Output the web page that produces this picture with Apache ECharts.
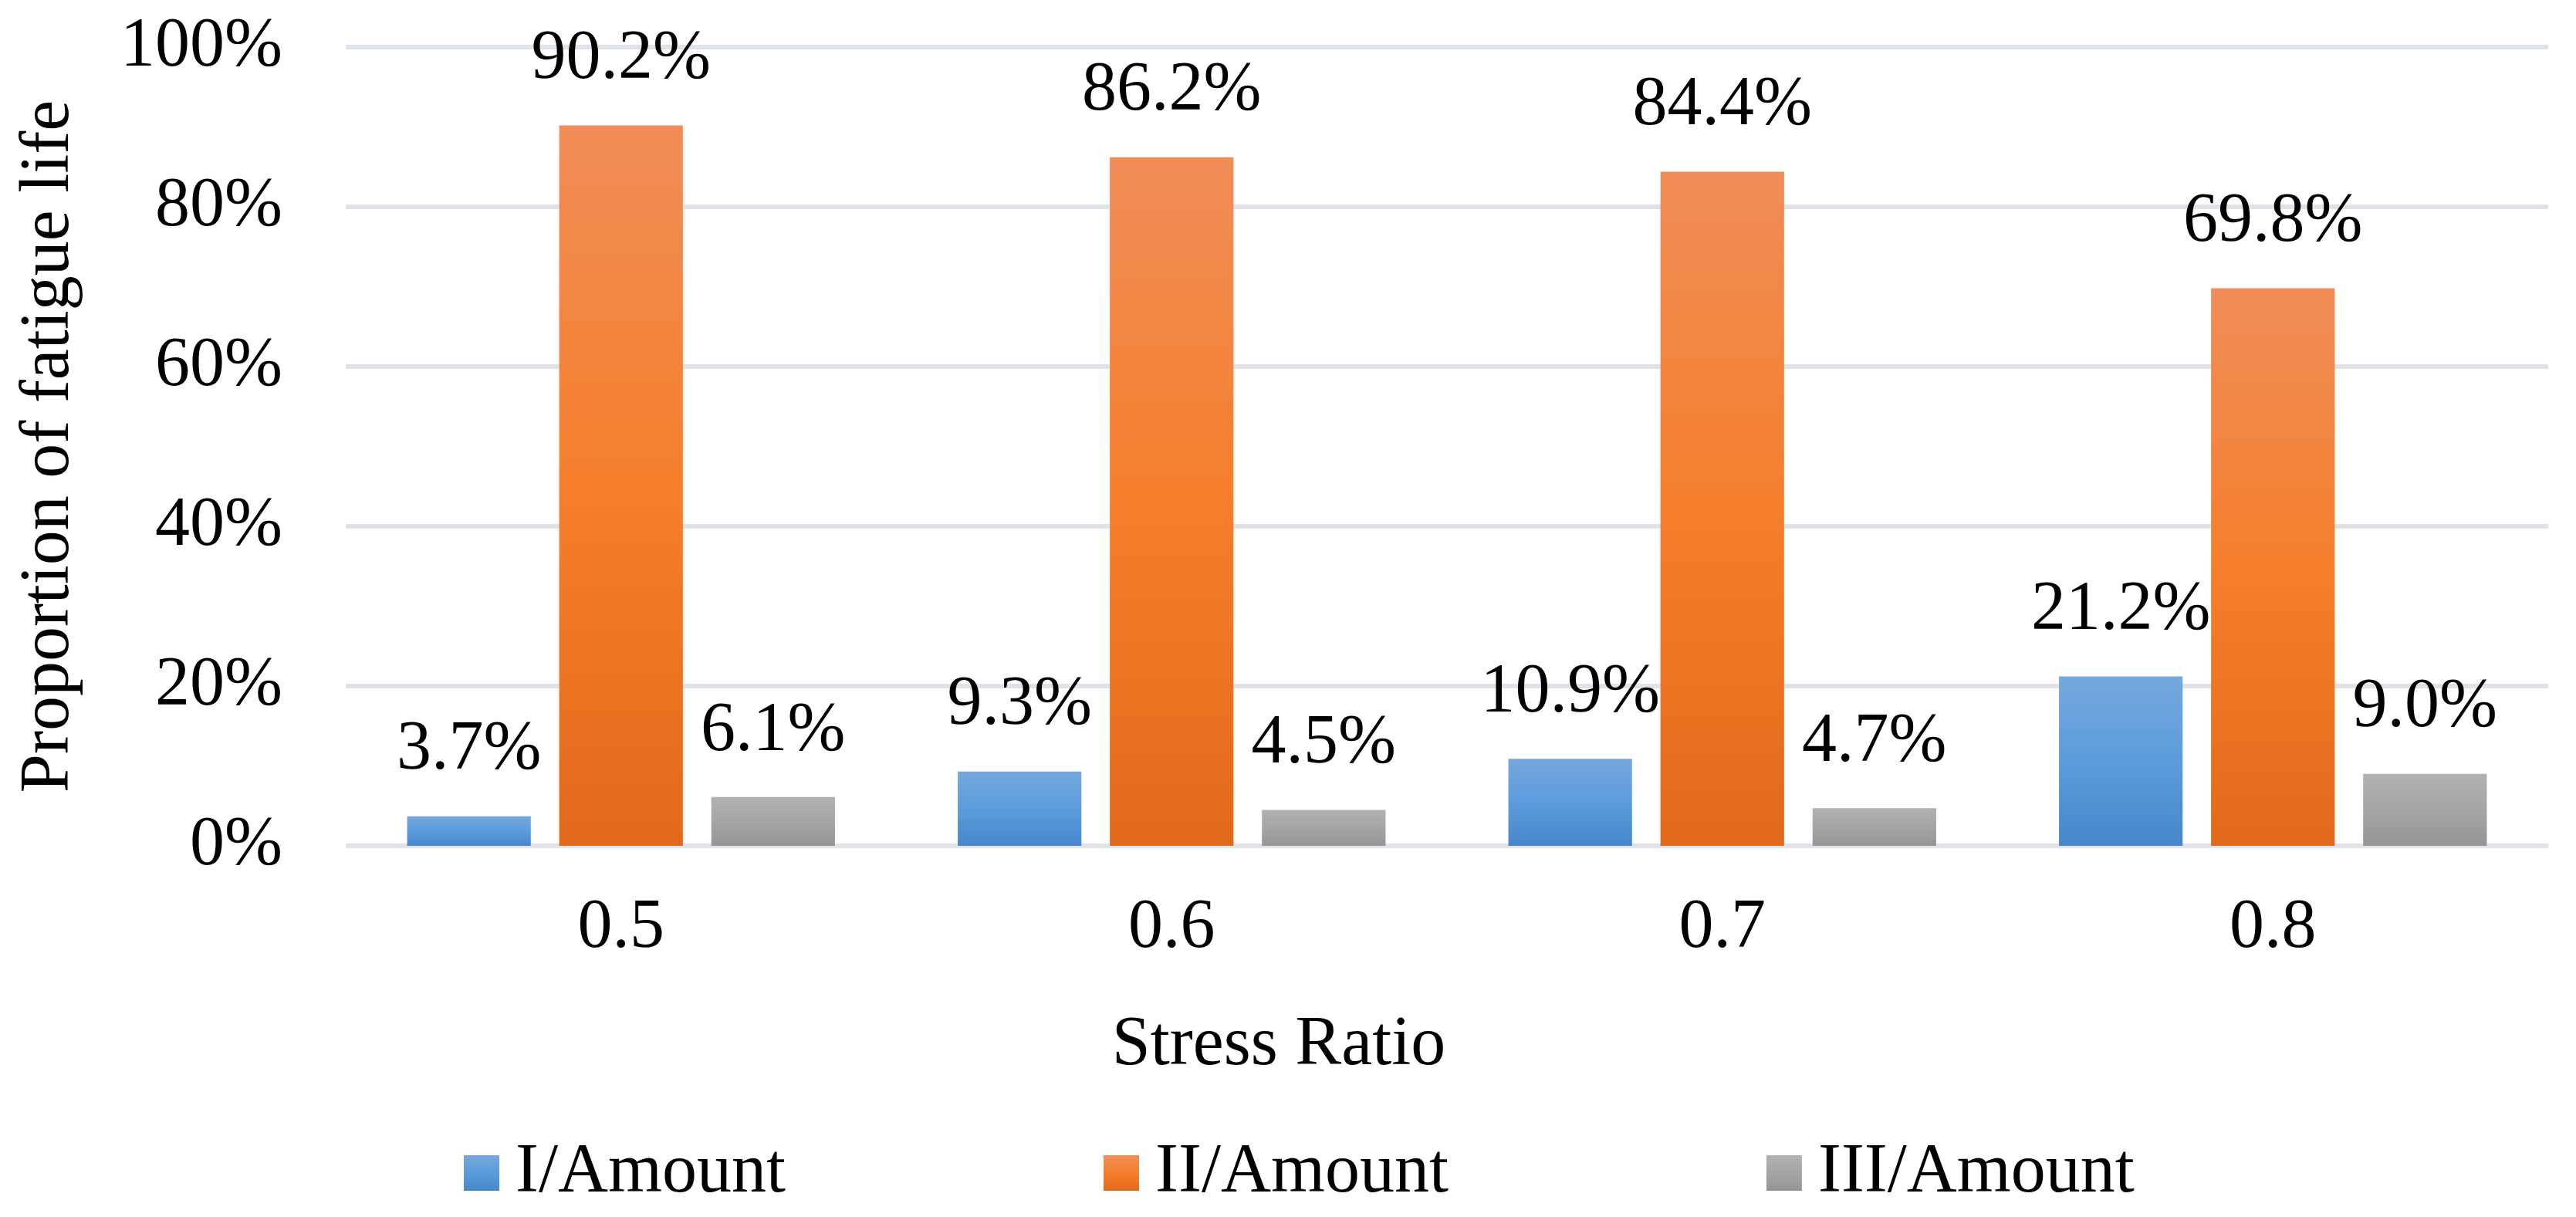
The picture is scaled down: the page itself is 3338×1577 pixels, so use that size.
<!DOCTYPE html>
<html>
<head>
<meta charset="utf-8">
<script src="https://cdn.jsdelivr.net/npm/echarts@6/dist/echarts.min.js"></script>
<style>
html,body{margin:0;padding:0;background:#fff;}
#chart{width:3338px;height:1577px;}
</style>
</head>
<body>
<div id="chart"></div>
<script>
const categories = ['0.5', '0.6', '0.7', '0.8'];
const seriesNames = ['I/Amount', 'II/Amount', 'III/Amount'];
const stageI = [3.7, 9.3, 10.9, 21.2];
const stageII = [90.2, 86.2, 84.4, 69.8];
const stageIII = [6.1, 4.5, 4.7, 9.0];
const yTicks = [0, 20, 40, 60, 80, 100];

const FONT = '"Liberation Serif", "Times New Roman", serif';
const grad = (c0, c1, c2) => new echarts.graphic.LinearGradient(0, 0, 0, 1, [
  {offset: 0, color: c0}, {offset: 0.5, color: c1}, {offset: 1, color: c2}
]);
const colors = [
  grad('#76A8DD', '#5C9CDC', '#4587CA'),
  grad('#F08D58', '#F57F2C', '#E3691A'),
  grad('#B1B1B1', '#A5A5A5', '#959595')
];
const dataSets = [stageI, stageII, stageIII];

const chart = echarts.init(document.getElementById('chart'), null, {renderer: 'canvas', devicePixelRatio: 1});
chart.setOption({
  backgroundColor: '#ffffff',
  animation: false,
  grid: {left: 448, right: 36, top: 61, bottom: 481, containLabel: false},
  legend: {
    data: seriesNames,
    left: 601, top: 1475, padding: 0,
    itemWidth: 46, itemHeight: 46, itemGap: 412,
    icon: 'rect',
    textStyle: {fontFamily: FONT, fontSize: 90, color: '#000', padding: [0, 0, 0, 16]}
  },
  xAxis: {
    type: 'category',
    data: categories,
    name: 'Stress Ratio',
    nameLocation: 'middle',
    nameGap: 214,
    nameTextStyle: {fontFamily: FONT, fontSize: 90, color: '#000', padding: [0, 436, 0, 0]},
    axisLine: {show: false},
    axisTick: {show: false},
    axisLabel: {fontFamily: FONT, fontSize: 90, color: '#000', margin: 62}
  },
  yAxis: {
    type: 'value',
    min: yTicks[0], max: yTicks[yTicks.length - 1], interval: 20,
    name: 'Proportion of fatigue life',
    nameLocation: 'middle',
    nameGap: 339,
    nameTextStyle: {fontFamily: FONT, fontSize: 90, color: '#000'},
    axisLine: {show: false},
    axisTick: {show: false},
    axisLabel: {fontFamily: FONT, fontSize: 90, color: '#000', margin: 82, formatter: '{value}%'},
    splitLine: {lineStyle: {color: '#DEE2E9', width: 6}}
  },
  series: dataSets.map((d, i) => ({
    name: seriesNames[i],
    type: 'bar',
    data: d,
    barCategoryGap: '22.3%',
    barGap: '23%',
    itemStyle: {color: colors[i]},
    label: {
      show: true, position: 'top', distance: 40,
      fontFamily: FONT, fontSize: 90, color: '#000',
      formatter: p => p.value.toFixed(1) + '%'
    }
  }))
});
</script>
</body>
</html>
